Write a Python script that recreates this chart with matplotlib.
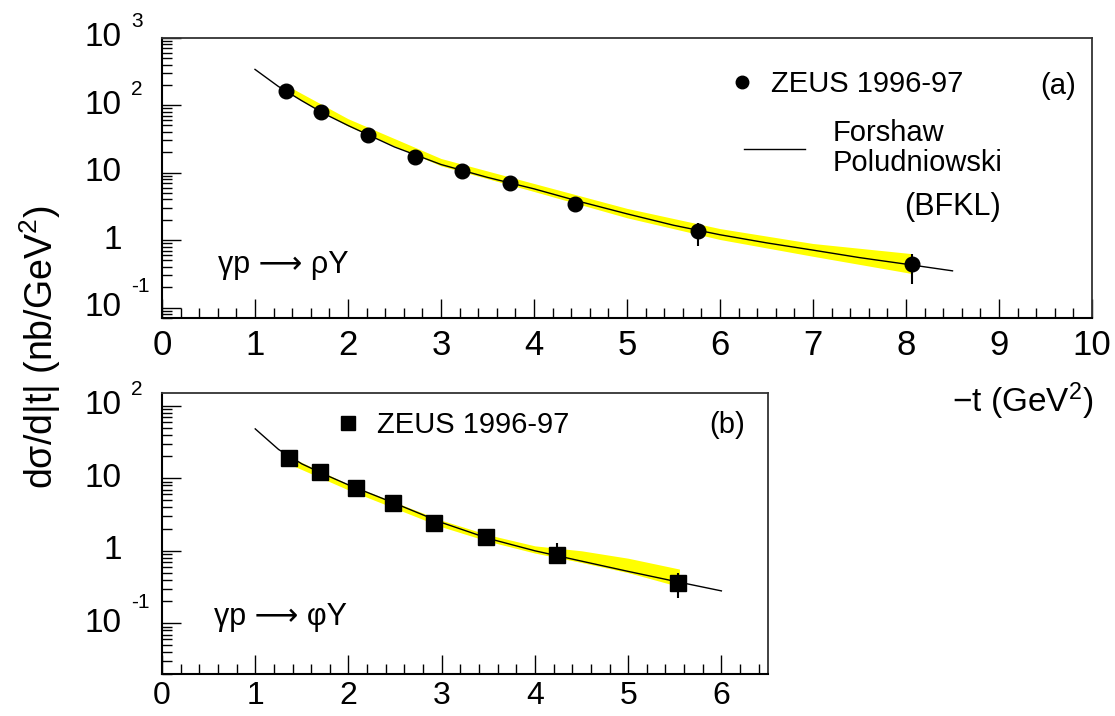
import matplotlib
matplotlib.use("Agg")
import matplotlib.pyplot as plt
import matplotlib.transforms as mtransforms
from matplotlib.ticker import MultipleLocator, LogLocator, NullFormatter
from matplotlib.lines import Line2D

plt.rcParams['font.family'] = ['Liberation Sans', 'DejaVu Sans']
plt.rcParams['mathtext.fontset'] = 'custom'
plt.rcParams['mathtext.rm'] = 'Liberation Sans'
plt.rcParams['mathtext.it'] = 'Liberation Sans:italic'

# ---- (a) gamma p -> rho Y
rho_t = [1.33, 1.71, 2.22, 2.72, 3.23, 3.74, 4.44, 5.76, 8.06]
rho_xs = [163, 78, 36.7, 17.3, 10.4, 6.9, 3.46, 1.36, 0.445]
rho_lo = [150, 72, 34, 16, 9.6, 6.3, 3.0, 0.83, 0.227]
rho_hi = [176, 85, 40, 18.8, 11.3, 7.5, 4.0, 1.77, 0.63]

rho_curve_t = [1.0, 1.25, 1.5, 1.75, 2.0, 2.5, 3.0, 3.5, 4.0, 4.5, 5.0, 5.5,
               6.0, 6.5, 7.0, 7.5, 8.0, 8.5]
rho_curve = [339, 190, 117, 74, 50, 24, 13.2, 8.5, 5.75, 3.7, 2.45, 1.66,
             1.20, 0.91, 0.71, 0.55, 0.44, 0.35]

rho_band_t = [1.33, 2.0, 3.0, 4.0, 5.0, 6.0, 7.0, 8.06]
rho_band_lo = [158, 49, 12.6, 5.25, 2.14, 1.02, 0.575, 0.32]
rho_band_hi = [200, 63, 16.2, 6.9, 2.95, 1.48, 0.89, 0.63]

# ---- (b) gamma p -> phi Y
phi_t = [1.36, 1.70, 2.08, 2.48, 2.92, 3.47, 4.24, 5.54]
phi_xs = [18.8, 12.1, 7.4, 4.6, 2.43, 1.56, 0.87, 0.36]
phi_lo = [14.3, 10.6, 6.5, 4.0, 2.1, 1.35, 0.68, 0.22]
phi_hi = [24.5, 13.8, 8.4, 5.3, 2.8, 1.8, 1.28, 0.49]

phi_curve_t = [1.0, 1.25, 1.5, 1.75, 2.0, 2.5, 3.0, 3.5, 4.0, 4.5, 5.0, 5.5, 6.0]
phi_curve = [48, 25, 15.8, 11.2, 8.1, 4.5, 2.45, 1.48, 1.0, 0.72, 0.52, 0.38, 0.28]

phi_band_t = [1.36, 2.0, 3.0, 3.5, 4.0, 4.5, 5.0, 5.55]
phi_band_lo = [15.8, 6.9, 2.14, 1.35, 0.93, 0.69, 0.50, 0.32]
phi_band_hi = [20, 8.3, 2.63, 1.66, 1.17, 1.0, 0.79, 0.56]

# y tick labels (ROOT style "10" + raised exponent)
rho_ytick_vals = [1000, 100, 10, 1, 0.1]
rho_ytick_base = ['10', '10', '10', '1', '10']
rho_ytick_exp = ['3', '2', '', '', '-1']
phi_ytick_vals = [100, 10, 1, 0.1]
phi_ytick_base = ['10', '10', '1', '10']
phi_ytick_exp = ['2', '', '', '-1']

W, H = 1115, 716
YELLOW = '#ffff00'


def px_box(left, top, right, bottom):
    return [left / W, (H - bottom) / H, (right - left) / W, (bottom - top) / H]


fig = plt.figure(figsize=(W / 100, H / 100), dpi=100)
ax1 = fig.add_axes(px_box(162, 37.7, 1092, 318))
ax2 = fig.add_axes(px_box(162, 393, 768, 674))


def style_axis(ax, xmax, ylim, xlab_size, xlab_pad):
    ax.set_yscale('log')
    ax.set_xlim(0, xmax)
    ax.set_ylim(*ylim)
    ax.xaxis.set_major_locator(MultipleLocator(1))
    ax.xaxis.set_minor_locator(MultipleLocator(0.2))
    ax.yaxis.set_major_locator(LogLocator(base=10, numticks=20))
    ax.yaxis.set_minor_locator(LogLocator(base=10, subs=range(2, 10), numticks=50))
    ax.yaxis.set_major_formatter(NullFormatter())
    ax.yaxis.set_minor_formatter(NullFormatter())
    ax.tick_params(which='both', direction='in', top=False, right=False,
                   width=1.0, color='black')
    ax.tick_params(which='major', length=14)
    ax.tick_params(which='minor', length=7)
    ax.tick_params(axis='x', labelsize=xlab_size, pad=xlab_pad)
    for s in ('left', 'bottom'):
        ax.spines[s].set_linewidth(1.5)
        ax.spines[s].set_color('black')
    for s in ('top', 'right'):
        ax.spines[s].set_linewidth(1.3)
        ax.spines[s].set_color('#333333')


def y_labels(ax, vals, bases, exps):
    tr = ax.get_yaxis_transform()
    for v, b, e in zip(vals, bases, exps):
        base_tr = mtransforms.offset_copy(tr, fig=fig, x=-40, y=0, units='dots')
        ax.text(0, v, b, transform=base_tr, ha='right', va='center',
                fontsize=24, clip_on=False)
        if e:
            rise = 21 if e.startswith('-') else 16
            exp_tr = mtransforms.offset_copy(tr, fig=fig, x=-31, y=rise, units='dots')
            ax.text(0, v, e, transform=exp_tr, ha='left', va='center',
                    fontsize=15, clip_on=False)


style_axis(ax1, 10, (0.07, 1000), 25, 8)
style_axis(ax2, 6.5, (0.02, 150), 23, 5)
y_labels(ax1, rho_ytick_vals, rho_ytick_base, rho_ytick_exp)
y_labels(ax2, phi_ytick_vals, phi_ytick_base, phi_ytick_exp)

# ---- panel (a)
ax1.fill_between(rho_band_t, rho_band_lo, rho_band_hi, color=YELLOW, lw=0, zorder=1)
ax1.plot(rho_curve_t, rho_curve, color='black', lw=1.0, zorder=2)
rho_err = [[v - l for v, l in zip(rho_xs, rho_lo)], [h - v for v, h in zip(rho_xs, rho_hi)]]
ax1.errorbar(rho_t, rho_xs, yerr=rho_err, fmt='o', color='black', ms=10.5,
             elinewidth=1.5, capsize=0, zorder=3)

leg1 = ax1.legend(handles=[Line2D([], [], ls='none', marker='o', color='black', ms=9)],
                  labels=['ZEUS 1996-97'], loc='center left',
                  bbox_to_anchor=(727 / W, 1 - 84 / H), bbox_transform=fig.transFigure,
                  frameon=False, fontsize=21, handlelength=1.0, handletextpad=0.5,
                  borderpad=0, borderaxespad=0)
ax1.add_artist(leg1)
leg2 = ax1.legend(handles=[Line2D([], [], color='black', lw=1.0)],
                  labels=['Forshaw\nPoludniowski'], loc='center left',
                  bbox_to_anchor=(744 / W, 1 - 148 / H), bbox_transform=fig.transFigure,
                  frameon=False, fontsize=21, handlelength=2.1, handletextpad=0.95,
                  borderpad=0, borderaxespad=0)
for txt in leg2.get_texts():
    txt.set_linespacing(1.1)
ax1.text(953 / W, 1 - 207 / H, '(BFKL)', transform=fig.transFigure,
         ha='center', va='center', fontsize=22)
ax1.text(1058 / W, 1 - 86 / H, '(a)', transform=fig.transFigure,
         ha='center', va='center', fontsize=21)
ax1.text(218 / W, 1 - 265 / H, 'γp \u27f6 ρY', transform=fig.transFigure,
         ha='left', va='center', fontsize=22)

# ---- panel (b)
ax2.fill_between(phi_band_t, phi_band_lo, phi_band_hi, color=YELLOW, lw=0, zorder=1)
ax2.plot(phi_curve_t, phi_curve, color='black', lw=1.0, zorder=2)
phi_err = [[v - l for v, l in zip(phi_xs, phi_lo)], [h - v for v, h in zip(phi_xs, phi_hi)]]
ax2.errorbar(phi_t, phi_xs, yerr=phi_err, fmt='s', color='black', ms=11,
             elinewidth=1.5, capsize=0, zorder=3)

ax2.legend(handles=[Line2D([], [], ls='none', marker='s', color='black', ms=10)],
           labels=['ZEUS 1996-97'], loc='center left',
           bbox_to_anchor=(333 / W, 1 - 425 / H), bbox_transform=fig.transFigure,
           frameon=False, fontsize=21, handlelength=1.0, handletextpad=0.5,
           borderpad=0, borderaxespad=0)
ax2.text(727 / W, 1 - 425 / H, '(b)', transform=fig.transFigure,
         ha='center', va='center', fontsize=21)
ax2.text(214 / W, 1 - 617 / H, 'γp \u27f6 φY', transform=fig.transFigure,
         ha='left', va='center', fontsize=22)

# axis titles
fig.text(1093 / W, 1 - 401 / H, '\u2212t (GeV$^{2}$)', ha='right', va='center', fontsize=24)
fig.text(40 / W, 1 - 347 / H, 'dσ/d|t| (nb/GeV$^{2}$)', rotation=90,
         ha='center', va='center', fontsize=27)

fig.savefig('out.png', dpi=100)
